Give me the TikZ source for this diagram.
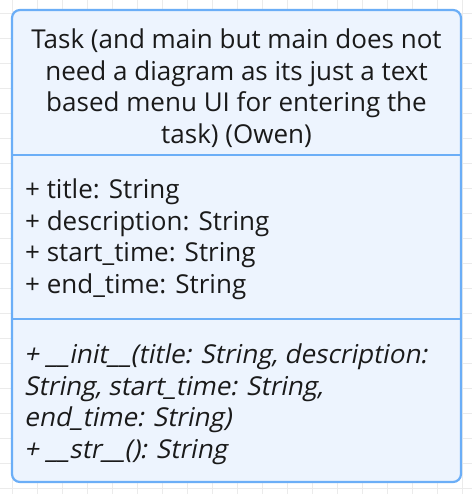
\documentclass[tikz,border=0pt]{standalone}
\usepackage{fontspec}
\setmainfont{Open Sans}
\newfontfamily\oblfont[FakeSlant=0.2]{Open Sans}
\definecolor{gridc}{HTML}{EBEBEB}
\definecolor{boxborder}{HTML}{6BAEF7}
\definecolor{boxfill}{HTML}{EDF4FE}
\definecolor{txt}{HTML}{1A1A1A}
\begin{document}
\begin{tikzpicture}[x=1pt,y=-1pt,
  txtstyle/.style={inner sep=0pt, text=txt, font=\fontsize{26}{31.5}\selectfont},
  divider/.style={draw=boxborder, line width=2pt}]
\useasboundingbox (0,0) rectangle (472,494);
\fill[white] (0,0) rectangle (472,494);
% grid
\foreach \gx in {12,37,...,462} \draw[gridc, line width=0.8pt] (\gx,0) -- (\gx,494);
\foreach \gy in {13,38,...,494} \draw[gridc, line width=0.8pt] (0,\gy) -- (472,\gy);
% box
\coordinate (tl) at (12,10);
\coordinate (br) at (461,482);
\coordinate (d1l) at (12,155);
\coordinate (d1r) at (461,155);
\coordinate (d2l) at (12,319);
\coordinate (d2r) at (461,319);
\draw[draw=boxborder, fill=boxfill, line width=2.2pt, rounded corners=8pt] (tl) rectangle (br);
\draw[divider] (d1l) -- (d1r);
\draw[divider] (d2l) -- (d2r);
% texts
\node[txtstyle, align=center] (title) at (236.5,88) {Task (and main but main does not\\need a diagram as its just a text\\based menu UI for entering the\\task) (Owen)};
\node[txtstyle, align=left, anchor=west] (attrs) at (25,239) {+ title: String\\+ description: String\\+ start\_time: String\\+ end\_time: String};
\node[txtstyle, align=left, anchor=west, font=\fontsize{26}{31.5}\selectfont\oblfont] (methods) at (24,404) {+ \_\_init\_\_(title: String, description:\\String, start\_time: String,\\end\_time: String)\\+ \_\_str\_\_(): String};
\end{tikzpicture}
\end{document}
